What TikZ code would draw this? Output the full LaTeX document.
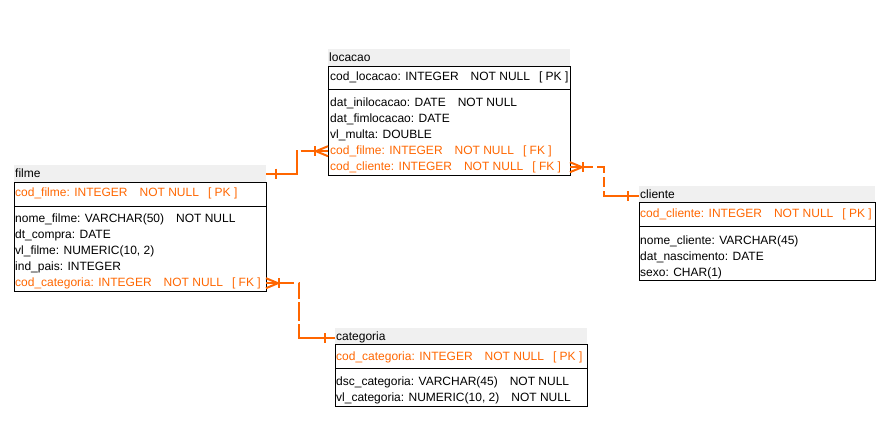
\documentclass[tikz,border=0pt]{standalone}
\usepackage{fontspec}
\setmainfont{Liberation Sans}
\usetikzlibrary{calc}
\definecolor{ora}{RGB}{255,102,0}
\definecolor{ttl}{RGB}{240,240,240}
\newcommand\gA{\hspace{12pt}}
\newcommand\gB{\hspace{9pt}}
\tikzset{
 titlebar/.style={fill=ttl, draw=none, inner sep=0pt, outer sep=0pt, anchor=north west, minimum height=17pt},
 tbox/.style={draw=black, line width=1pt, inner sep=0pt, outer sep=0pt, anchor=north west},
 ttext/.style={anchor=base west, inner sep=0pt, font=\fontsize{12}{14}\selectfont},
 fk/.style={ttext, text=ora},
 conn/.style={draw=ora, line width=2pt},
 crow/.style={draw=ora, line width=2pt},
 sepline/.style={draw=black, line width=1pt},
}
\begin{document}
\begin{tikzpicture}[x=1pt,y=-1pt]
\useasboundingbox (0,0) rectangle (887,445);
% ---------- locacao ----------
\node[titlebar, minimum width=242pt] (locT) at (328,49) {};
\node[tbox, minimum width=242pt, minimum height=109pt] (locB) at (328,66) {};
\draw[sepline] (328,89) -- (570,89);
\node[ttext] (locN) at (329,61.8) {locacao};
\node[ttext] (lpk) at (330,80.3) {cod\_locacao: INTEGER\gA NOT NULL\gB[ PK ]};
\node[ttext] (lr1) at (330,106.3) {dat\_inilocacao: DATE\gA NOT NULL};
\node[ttext] (lr2) at (330,122.3) {dat\_fimlocacao: DATE};
\node[ttext] (lr3) at (330,138.3) {vl\_multa: DOUBLE};
\node[fk] (lcf) at (330,154.3) {cod\_filme: INTEGER\gA NOT NULL\gB[ FK ]};
\node[fk] (lcc) at (330,170.3) {cod\_cliente: INTEGER\gA NOT NULL\gB[ FK ]};
% ---------- filme ----------
\node[titlebar, minimum width=252pt] (filT) at (14,165) {};
\node[tbox, minimum width=252pt, minimum height=109pt] (filB) at (14,182) {};
\draw[sepline] (14,206) -- (266,206);
\node[ttext] (filN) at (15,177.8) {filme};
\node[fk] (fpk) at (15,196.3) {cod\_filme: INTEGER\gA NOT NULL\gB[ PK ]};
\node[ttext] (fr1) at (15,222.3) {nome\_filme: VARCHAR(50)\gA NOT NULL};
\node[ttext] (fr2) at (15,238.3) {dt\_compra: DATE};
\node[ttext] (fr3) at (15,254.3) {vl\_filme: NUMERIC(10, 2)};
\node[ttext] (fr4) at (15,270.3) {ind\_pais: INTEGER};
\node[fk] (fcc) at (15,286.3) {cod\_categoria: INTEGER\gA NOT NULL\gB[ FK ]};
% ---------- cliente ----------
\node[titlebar, minimum width=236pt, minimum height=16pt] (cliT) at (639,186) {};
\node[tbox, minimum width=236pt, minimum height=78pt] (cliB) at (639,202) {};
\draw[sepline] (639,226) -- (875,226);
\node[ttext] (cliN) at (640,198.3) {cliente};
\node[fk] (cpk) at (640,217.3) {cod\_cliente: INTEGER\gA NOT NULL\gB[ PK ]};
\node[ttext] (cr1) at (640,244.3) {nome\_cliente: VARCHAR(45)};
\node[ttext] (cr2) at (640,260.3) {dat\_nascimento: DATE};
\node[ttext] (cr3) at (640,276.3) {sexo: CHAR(1)};
% ---------- categoria ----------
\node[titlebar, minimum width=252pt, minimum height=16pt] (catT) at (335,328) {};
\node[tbox, minimum width=252pt, minimum height=62pt] (catB) at (335,344) {};
\draw[sepline] (335,368) -- (587,368);
\node[ttext] (catN) at (336,340.3) {categoria};
\node[fk] (kpk) at (336,360.3) {cod\_categoria: INTEGER\gA NOT NULL\gB[ PK ]};
\node[ttext] (kr1) at (336,385.3) {dsc\_categoria: VARCHAR(45)\gA NOT NULL};
\node[ttext] (kr2) at (336,401.3) {vl\_categoria: NUMERIC(10, 2)\gA NOT NULL};
% ---------- connectors ----------
% filme -> locacao
\coordinate (p1) at (locB.west |- lcf);
\draw[conn, dash pattern=on 54pt off 3pt on 80pt off 1pt] (filT.east) -- ++(31,0) |- (p1);
\draw[crow] ($(filT.east)+(10,-5)$) -- ++(0,10);
\draw[crow] ($(p1)+(0,-5)$) -- ($(p1)+(-12,0)$) -- ($(p1)+(0,5)$);
\draw[crow] (p1) -- ++(-12,0);
\draw[crow] ($(p1)+(-13,-5)$) -- ++(0,10);
% locacao -> cliente
\coordinate (p2) at (locB.east |- lcc);
\coordinate (q2) at ($(cliT.west)+(0,2)$);
\draw[conn, dash pattern=on 23pt off 4pt on 13pt off 4pt on 10pt off 4pt on 80pt off 1pt] (p2) -- ++(34,0) |- (q2);
\draw[crow] ($(q2)+(-11,-5)$) -- ++(0,10);
\draw[crow] ($(p2)+(0,-5)$) -- ($(p2)+(12,0)$) -- ($(p2)+(0,5)$);
\draw[crow] (p2) -- ++(12,0);
\draw[crow] ($(p2)+(13,-5)$) -- ++(0,10);
% filme -> categoria
\coordinate (p3) at (filB.east |- fcc);
\coordinate (q3) at ($(catT.west)+(0,2)$);
\draw[conn, dash pattern=on 28pt off 5pt on 16pt off 3pt on 19pt off 3pt on 80pt off 1pt] (p3) -- ++(33,0) |- (q3);
\draw[crow] ($(q3)+(-10,-5)$) -- ++(0,10);
\draw[crow] ($(p3)+(0,-5)$) -- ($(p3)+(12,0)$) -- ($(p3)+(0,5)$);
\draw[crow] (p3) -- ++(12,0);
\draw[crow] ($(p3)+(13,-5)$) -- ++(0,10);
\end{tikzpicture}
\end{document}
